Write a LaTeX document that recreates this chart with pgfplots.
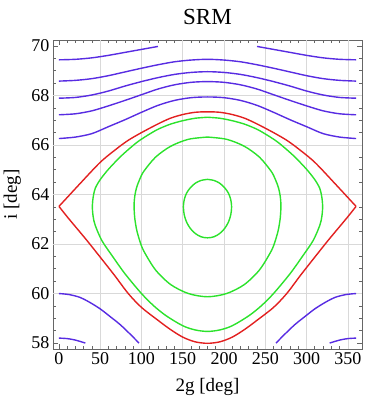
\documentclass[border=0pt]{standalone}
\usepackage{fontspec}
\setmainfont{Liberation Serif}
\usepackage{pgfplots}
\pgfplotsset{compat=1.18}
\definecolor{cblue}{RGB}{88,44,226}
\definecolor{cred}{RGB}{226,32,32}
\definecolor{cgreen}{RGB}{44,226,44}

\begin{document}
\begin{tikzpicture}
\begin{axis}[
  name=ax,
  width=309pt, height=309pt, scale only axis,
  xmin=-7.2, xmax=367.2, ymin=57.76, ymax=70.24,
  xtick={0,50,...,350}, ytick={58,60,...,70},
  minor x tick num=4, minor y tick num=3,
  tick align=inside, major tick length=5pt, minor tick length=3pt,
  tick style={gray!80!black, line width=0.6pt},
  axis line style={gray!80!black, line width=0.8pt},
  extra x ticks={50,100,...,350}, extra y ticks={60,62,...,68},
  extra x tick labels={}, extra y tick labels={},
  extra tick style={grid=major, major tick length=0pt,
    grid style={gray!30, line width=0.6pt}},
  ticklabel style={font=\fontsize{18}{18}\selectfont},
  /pgf/number format/assume math mode=true,
  title={SRM},
  title style={font=\fontsize{23}{23}\selectfont, at={(axis description cs:0.5,1.032)}, anchor=base},
  xlabel={2g [deg]}, ylabel={i [deg]},
  label style={font=\fontsize{19}{19}\selectfont},
  xlabel style={at={(axis description cs:0.5,-0.136)}, anchor=base},
  ylabel style={at={(axis description cs:-0.117,0.5)}, anchor=base},
  every axis plot/.append style={line width=1.4pt, smooth},
]
% upper circulation curves
\addplot[cblue] coordinates {(0,69.44)(20,69.46)(40,69.52)(60,69.62)(80,69.74)(100,69.86)(120,69.98)};
\addplot[cblue] coordinates {(240,69.98)(260,69.86)(280,69.74)(300,69.62)(320,69.52)(340,69.46)(360,69.44)};
\addplot[cblue] coordinates {(0,68.58)(20,68.61)(40,68.68)(60,68.80)(80,68.95)(100,69.10)(120,69.24)(140,69.36)(160,69.43)(180,69.46)
  (200,69.43)(220,69.36)(240,69.24)(260,69.10)(280,68.95)(300,68.80)(320,68.68)(340,68.61)(360,68.58)};
\addplot[cblue] coordinates {(0,67.89)(20,67.92)(40,68.02)(60,68.18)(80,68.38)(100,68.56)(120,68.72)(140,68.85)(160,68.93)(180,68.96)
  (200,68.93)(220,68.85)(240,68.72)(260,68.56)(280,68.38)(300,68.18)(320,68.02)(340,67.92)(360,67.89)};
\addplot[cblue] coordinates {(0,67.22)(20,67.26)(40,67.38)(60,67.58)(80,67.80)(100,68.03)(120,68.26)(140,68.43)(160,68.53)(180,68.56)
  (200,68.53)(220,68.43)(240,68.26)(260,68.03)(280,67.80)(300,67.58)(320,67.38)(340,67.26)(360,67.22)};
\addplot[cblue] coordinates {(0,66.26)(20,66.32)(40,66.46)(60,66.74)(80,67.02)(100,67.32)(120,67.60)(140,67.80)(160,67.91)(180,67.94)
  (200,67.91)(220,67.80)(240,67.60)(260,67.32)(280,67.02)(300,66.74)(320,66.46)(340,66.32)(360,66.26)};
% lower circulation curves
\addplot[cblue] coordinates {(0,60.0)(12,59.96)(25,59.85)(37,59.65)(50,59.38)(62,59.07)(74,58.75)(86,58.37)(97,58.0)};
\addplot[cblue] coordinates {(263,58.0)(274,58.37)(286,58.75)(298,59.07)(310,59.38)(323,59.65)(335,59.85)(348,59.96)(360,60.0)};
\addplot[cblue] coordinates {(0,58.2)(10,58.18)(20,58.12)(32,58.0)};
\addplot[cblue] coordinates {(328,58.0)(340,58.12)(350,58.18)(360,58.2)};
% separatrix
\addplot[cred] coordinates {(0,63.52)(10,63.88)(25,64.42)(50,65.30)(70,65.85)(84,66.19)(100,66.50)(120,66.85)(135,67.08)(150,67.23)(165,67.32)(180,67.34)
  (195,67.32)(210,67.23)(225,67.08)(240,66.85)(260,66.50)(276,66.19)(290,65.85)(310,65.30)(335,64.42)(350,63.88)(360,63.52)};
\addplot[cred] coordinates {(0,63.52)(10,63.10)(20,62.70)(34,62.14)(50,61.47)(67,60.75)(84,60.0)(100,59.44)(120,58.92)(135,58.55)(150,58.24)(165,58.05)(180,57.99)
  (195,58.05)(210,58.24)(225,58.55)(240,58.92)(260,59.44)(276,60.0)(293,60.75)(310,61.47)(326,62.14)(340,62.70)(350,63.10)(360,63.52)};
% libration curves
\addplot[cgreen] coordinates {(180,67.12)(165,67.08)(150,66.98)(135,66.84)(118,66.60)(98,66.19)(86,65.87)(74,65.51)(60,65.02)(50,64.60)(44,64.25)(41.5,63.9)(40.5,63.5)
  (41.5,63.1)(44,62.75)(52,62.14)(65,61.5)(80,60.8)(100,60.0)(115,59.5)(130,59.1)(150,58.7)(165,58.53)(180,58.47)
  (195,58.53)(210,58.7)(230,59.1)(245,59.5)(260,60.0)(280,60.8)(295,61.5)(308,62.14)(316,62.75)(318.5,63.1)(319.5,63.5)
  (318.5,63.9)(316,64.25)(310,64.60)(300,65.02)(286,65.51)(274,65.87)(262,66.19)(242,66.60)(225,66.84)(210,66.98)(195,67.08)(180,67.12)};
\addplot[cgreen] coordinates {(180,66.32)(156.9,66.23)(135.5,65.95)(117.1,65.51)(102.9,64.94)(97.8,64.61)(94.0,64.27)(91.8,63.91)(91,63.55)
  (91.8,63.07)(94.0,62.60)(97.8,62.14)(102.9,61.71)(117.1,60.95)(135.5,60.36)(156.9,60.00)(180,59.87)
  (203.1,60.00)(224.5,60.36)(242.9,60.95)(257.1,61.71)(262.2,62.14)(266,62.60)(268.2,63.07)(269,63.55)
  (268.2,63.91)(266,64.27)(262.2,64.61)(257.1,64.94)(242.9,65.51)(224.5,65.95)(203.1,66.23)(180,66.32)};
\addplot[cgreen] coordinates {(180,64.61)(172.4,64.57)(165.4,64.46)(159.4,64.28)(154.7,64.06)(151.8,63.79)(150.8,63.5)
  (151.8,63.18)(154.7,62.88)(159.4,62.62)(165.4,62.42)(172.4,62.29)(180,62.25)
  (187.6,62.29)(194.6,62.42)(200.6,62.62)(205.3,62.88)(208.2,63.18)(209.2,63.5)
  (208.2,63.79)(205.3,64.06)(200.6,64.28)(194.6,64.46)(187.6,64.57)(180,64.61)};
\end{axis}
\pgfresetboundingbox
\path ([xshift=-53pt,yshift=-56pt]ax.south west) rectangle ([xshift=12pt,yshift=40pt]ax.north east);
\end{tikzpicture}
\end{document}
